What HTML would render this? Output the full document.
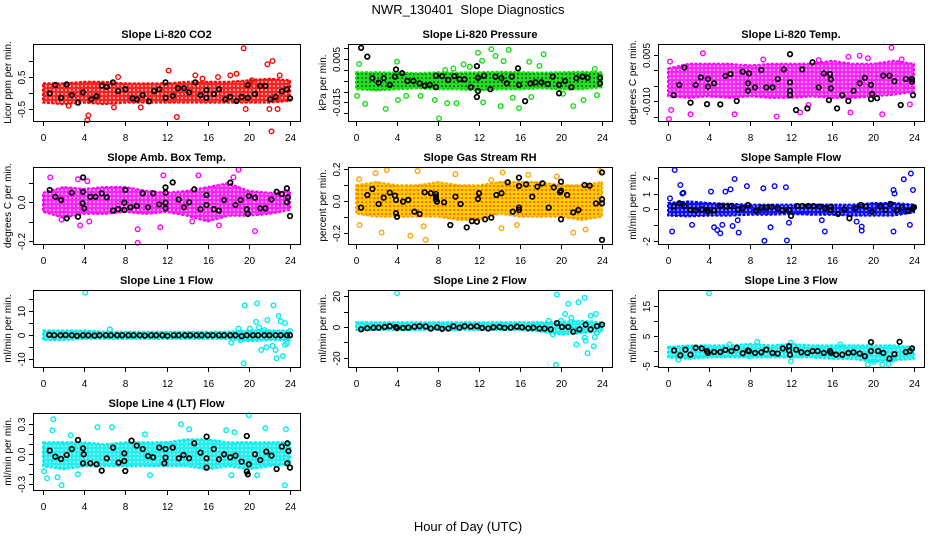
<!DOCTYPE html>
<html>
<head>
<meta charset="utf-8">
<style>
html,body{margin:0;padding:0;background:#fff;}
svg{display:block;font-family:"Liberation Sans",Arial,sans-serif;}
</style>
</head>
<body>
<svg id="chart" width="936" height="540" viewBox="0 0 936 540" xmlns="http://www.w3.org/2000/svg">
<defs>
<pattern id="pat-red" width="4" height="4" patternUnits="userSpaceOnUse"><rect width="4" height="4" fill="#ff2020"/><circle cx="2" cy="2" r="0.9" fill="#fff"/></pattern>
<pattern id="pat-green" width="4" height="4" patternUnits="userSpaceOnUse"><rect width="4" height="4" fill="#22dd22"/><circle cx="2" cy="2" r="0.8" fill="#000"/></pattern>
<pattern id="pat-magenta" width="4" height="4" patternUnits="userSpaceOnUse"><rect width="4" height="4" fill="#ff22ff"/><circle cx="2" cy="2" r="0.9" fill="#fff"/></pattern>
<pattern id="pat-orange" width="4" height="4" patternUnits="userSpaceOnUse"><rect width="4" height="4" fill="#ffcc00"/><circle cx="2" cy="2" r="1" fill="#ff5500"/></pattern>
<pattern id="pat-blue" width="4" height="4" patternUnits="userSpaceOnUse"><rect width="4" height="4" fill="#1010ff"/><circle cx="2" cy="2" r="0.8" fill="#fff"/></pattern>
<pattern id="pat-cyan" width="4" height="4" patternUnits="userSpaceOnUse"><rect width="4" height="4" fill="#22f0f0"/><circle cx="2" cy="2" r="0.8" fill="#fff"/></pattern>
</defs>
<text x="468" y="14" text-anchor="middle" font-size="13" xml:space="preserve">NWR_130401  Slope Diagnostics</text>
<text x="468" y="531" text-anchor="middle" font-size="13">Hour of Day (UTC)</text>
</svg>
<script>
// ---------- data ----------
const bandHours = [0,2,4,6,8,10,12,14,16,18,20,22,24];
const xTicks = [0,4,8,12,16,20,24];

// CO2
const co2BandHi = [0.3,0.3,0.35,0.35,0.3,0.3,0.3,0.35,0.35,0.35,0.4,0.45,0.4];
const co2BandLo = [-0.3,-0.35,-0.3,-0.35,-0.3,-0.3,-0.3,-0.3,-0.3,-0.3,-0.3,-0.3,-0.25];
const co2Out = [[4.3,-0.85],[4.4,-0.7],[7.3,0.5],[12.2,0.7],[13,-0.75],[14.8,0.55],[17,0.5],[18.2,0.55],[18.8,0.6],[19.5,1.4],[19.7,-0.5],[20.3,0.4],[21.8,0.9],[22.3,1.0],[22.2,-1.2],[22,-0.5],[23,0.55],[22.8,-0.5],[2.5,-0.4],[6.9,-0.45],[9.5,-0.45],[15.5,0.45]];
const co2Black = [[0.65,-0.01],[1.2,0.25],[1.75,-0.15],[2.3,0.27],[2.8,-0.07],[3.4,-0.3],[3.9,0.02],[4.7,-0.2],[5.2,-0.1],[5.7,0.23],[6.2,0.19],[6.8,0.33],[7.3,0.06],[8,0.12],[8.7,-0.17],[9.1,-0.2],[9.7,-0.07],[10.3,-0.26],[10.8,0.06],[11.3,0.12],[11.9,0.33],[11.9,-0.15],[12.6,-0.09],[13.1,0.15],[13.7,0.15],[14.2,0.02],[14.8,0.33],[15.3,-0.07],[15.9,0.09],[15.9,-0.15],[16.6,-0.03],[17.1,0.12],[17.7,-0.2],[18.2,-0.12],[18.8,-0.25],[19.3,-0.12],[19.9,0.25],[19.9,-0.15],[20.6,-0.03],[21.1,0.22],[21.6,0.22],[22.1,-0.2],[22.6,-0.12],[23.2,0.05],[23.7,0.12],[24,-0.17]];

// Pressure
const presBandHi = [-0.001,-0.001,-0.0012,-0.0015,-0.001,-0.0012,-0.001,-0.0008,-0.001,-0.0012,-0.001,-0.0008,-0.001];
const presBandLo = [-0.009,-0.0095,-0.009,-0.0085,-0.009,-0.009,-0.0095,-0.009,-0.009,-0.0085,-0.009,-0.009,-0.008];
const presOut = [[0.3,0.0028],[0.1,-0.012],[0.9,-0.0157],[2.9,-0.018],[4.0,0.0038],[4.1,-0.0139],[4.9,-0.012],[6.3,-0.012],[7.7,-0.0139],[8.1,-0.0224],[8.9,-0.0154],[9.8,-0.0154],[10.5,0.0026],[11.1,0.0015],[11.9,0.008],[12.3,0.0043],[12.4,-0.015],[13.2,0.0097],[13.6,0.0065],[14.1,-0.0167],[14.4,0.0041],[14.9,0.0093],[15.3,-0.0128],[15.9,-0.0177],[16.9,0.0038],[17.1,-0.0125],[17.9,0.0019],[18.3,0.0073],[20.2,-0.011],[21.2,-0.0167],[22.2,-0.0139],[23.3,0.0005],[23.5,-0.0116],[8.7,0],[9.5,0.0007]];
const presBlack = [[0.5,0.0103],[1.1,0.0062],[1.6,-0.0038],[2.2,-0.0059],[2.7,-0.0038],[3.3,-0.0069],[3.8,-0.0031],[3.9,0.0003],[4.5,-0.0015],[5.0,-0.0051],[5.6,-0.0051],[6.2,-0.0062],[6.7,-0.0073],[7.2,-0.0069],[7.8,-0.0026],[7.8,-0.0079],[8.4,-0.0028],[9.0,-0.0046],[9.6,-0.0028],[10.1,-0.0042],[10.6,-0.0043],[11.2,-0.0079],[11.8,0.0018],[11.8,-0.0125],[11.9,-0.0097],[11.9,-0.0036],[12.5,-0.0026],[13.1,-0.0089],[13.6,-0.0031],[14.2,-0.0038],[14.7,-0.0062],[15.2,-0.0031],[15.8,0.0008],[15.9,-0.0069],[16.5,-0.0144],[17.0,-0.0062],[17.5,-0.0057],[18.1,-0.0057],[18.7,-0.0065],[19.2,-0.0031],[19.8,-0.0069],[19.8,-0.0108],[20.4,-0.0051],[21.0,-0.0079],[21.5,-0.0038],[22.1,-0.0031],[22.6,-0.0036],[23.8,-0.0036],[23.8,-0.0062]];

// Li-820 Temp
const tempBandHi = [0.0005,0.002,0.002,0.002,0.0015,0.002,0.002,0.002,0.003,0.002,0.002,0.003,0.002];
const tempBandLo = [-0.0085,-0.009,-0.0085,-0.009,-0.0085,-0.009,-0.009,-0.0085,-0.009,-0.009,-0.0085,-0.008,-0.007];
const tempOut = [[0.2,0.0027],[0.1,-0.0158],[0.3,-0.0129],[2.2,-0.0143],[3.4,0.0054],[6.5,-0.0143],[9.3,0.0034],[10.6,-0.015],[12.9,-0.0137],[14.7,0.0032],[17.6,0.0043],[17.8,-0.0137],[18.7,0.0046],[19.5,0.0038],[20.9,-0.0143],[21.8,0.0072],[22.8,0.0034],[23.6,-0.0111],[13.7,-0.0113]];
const tempBlack = [[0.55,-0.0081],[1.1,-0.0048],[1.6,0.0008],[2.2,-0.0105],[2.7,-0.0048],[3.2,-0.0024],[3.9,-0.0029],[3.9,-0.0054],[3.8,-0.011],[4.5,-0.0043],[5.1,-0.0111],[5.6,-0.0019],[6.1,-0.0013],[6.7,-0.01],[7.3,-0.0005],[7.9,-0.0011],[7.8,-0.0043],[7.8,-0.0067],[8.5,-0.0056],[9.1,0.0],[9.6,-0.0056],[10.2,-0.0056],[10.7,-0.0029],[11.3,0.0002],[11.9,-0.004],[11.9,-0.0067],[11.9,0.0051],[11.9,-0.0081],[12.5,-0.0129],[13.1,0.0002],[13.6,-0.0124],[14.1,0.0025],[14.7,-0.0056],[15.2,-0.0011],[15.8,-0.0013],[15.9,-0.003],[15.9,-0.0059],[15.7,-0.0097],[16.5,-0.0124],[17.0,-0.0081],[17.6,-0.01],[18.1,-0.0067],[18.7,-0.0043],[19.2,-0.0025],[19.8,-0.0048],[19.9,-0.0077],[19.8,-0.0094],[20.4,-0.0091],[21.0,-0.0018],[21.6,-0.0018],[22.1,-0.0036],[22.7,-0.0113],[23.2,-0.0029],[23.8,-0.0029],[23.8,-0.0037],[23.9,-0.0081]];

// Amb Box Temp
const ambBandHi = [0.05,0.08,0.07,0.08,0.08,0.06,0.05,0.06,0.08,0.1,0.06,0.05,0.06];
const ambBandLo = [-0.05,-0.08,-0.06,-0.06,-0.05,-0.06,-0.05,-0.07,-0.1,-0.07,-0.07,-0.06,-0.04];
const ambOut = [[0.7,0.13],[3.4,0.12],[3.6,-0.12],[9.2,-0.14],[9.2,-0.21],[11.4,-0.13],[11.7,0.14],[15.1,0.14],[17.1,-0.12],[19.0,0.17],[20.6,-0.15],[18.5,0.13],[4.3,0.11],[1.8,-0.09],[4.5,-0.1],[14.5,-0.1]];
const ambBlack = [[0.65,0.064],[1.2,0.029],[1.75,0.012],[2.3,-0.083],[2.8,0.05],[3.4,-0.075],[3.9,0.13],[3.9,0.055],[3.85,-0.005],[4.0,-0.031],[4.6,0.029],[5.1,0.029],[5.7,0.047],[6.2,0.026],[6.8,-0.043],[7.3,-0.035],[7.9,-0.002],[7.9,-0.04],[8.0,0.064],[8.5,-0.026],[9.1,-0.019],[9.7,0.047],[10.2,-0.026],[10.7,0.047],[11.3,-0.011],[11.9,0.078],[11.9,0.05],[11.9,-0.002],[11.9,-0.031],[12.6,0.104],[13.2,0.015],[13.7,-0.026],[14.2,0.0],[14.7,0.068],[15.3,-0.036],[15.9,-0.014],[15.9,0.038],[16.6,-0.036],[17.1,-0.043],[17.6,0.012],[18.2,0.102],[18.7,-0.014],[19.2,0.012],[19.8,-0.036],[19.9,-0.06],[20.0,0.033],[20.6,0.024],[21.1,-0.031],[21.6,-0.031],[22.2,0.015],[22.7,0.055],[23.2,0.043],[23.7,0.073],[23.8,0.026],[23.7,0.0],[24.0,-0.071]];

// Gas Stream RH
const rhBandHi = [0.1,0.12,0.1,0.1,0.12,0.1,0.1,0.12,0.12,0.12,0.1,0.1,0.12];
const rhBandLo = [-0.08,-0.1,-0.1,-0.1,-0.1,-0.12,-0.12,-0.08,-0.1,-0.1,-0.1,-0.12,-0.1];
const rhOut = [[0.3,0.137],[0.35,-0.152],[2.5,-0.2],[3.0,0.196],[5.3,-0.22],[6.0,0.19],[6.8,-0.246],[6.6,-0.16],[9.7,0.17],[14.3,0.18],[14.2,-0.173],[15.7,-0.152],[16.8,0.165],[19.6,0.154],[21.2,-0.2],[22.4,-0.18],[23.8,0.19],[1.9,0.175],[13.2,0.133]];
const rhBlack = [[0.5,-0.042],[1.1,0.038],[1.6,0.076],[2.2,-0.019],[2.7,0.021],[3.3,0.053],[3.8,0.034],[3.9,0.007],[3.9,-0.078],[4.0,-0.1],[4.6,-0.004],[5.1,0.007],[5.7,-0.068],[6.2,-0.082],[6.7,0.055],[7.3,0.049],[7.8,0.044],[7.8,0.027],[7.8,0.011],[7.9,-0.004],[8.6,-0.008],[9.2,-0.152],[9.7,0.027],[10.2,-0.019],[10.8,-0.167],[11.3,-0.127],[11.8,-0.131],[12.0,0.049],[11.9,0.013],[12.6,-0.116],[13.2,-0.105],[13.7,0.038],[14.2,0.049],[14.8,0.118],[15.3,-0.068],[15.9,0.148],[15.9,0.095],[15.9,-0.042],[15.9,-0.057],[16.6,0.105],[17.2,0.027],[17.7,0.091],[18.2,0.112],[18.8,-0.042],[19.3,0.086],[19.9,0.055],[20.0,0.122],[20.0,-0.116],[20.0,0.065],[20.6,0.038],[21.2,-0.072],[21.7,-0.057],[22.3,0.101],[22.8,0.097],[23.4,-0.015],[24.0,0.181],[24.0,0.011],[24.0,-0.015],[24.0,-0.246]];

// Sample Flow
const sfBandHi = [0.4,0.5,0.4,0.35,0.3,0.3,0.3,0.3,0.3,0.3,0.4,0.4,0.3];
const sfBandLo = [-0.4,-0.45,-0.4,-0.4,-0.35,-0.35,-0.3,-0.35,-0.35,-0.4,-0.4,-0.4,-0.2];
const sfOut = [[0.65,2.49],[0.4,-1.41],[1.2,1.54],[1.4,1.0],[1.5,1.05],[0.2,0.69],[2.35,-0.99],[4.2,1.12],[4.5,-1.14],[4.8,-1.31],[5.1,-1.52],[5.3,-0.99],[5.6,1.12],[6.1,1.26],[6.3,-1.06],[6.5,1.92],[6.9,-1.48],[7.7,1.47],[9.4,-2.0],[9.3,1.33],[10.0,-1.14],[10.4,1.47],[11.6,-1.98],[11.5,1.4],[11.8,-0.85],[15.3,-1.41],[18.4,-0.78],[18.9,-1.1],[18.9,-1.35],[22.0,-1.41],[22.0,1.22],[22.1,1.0],[23.0,1.9],[23.6,-0.99],[23.7,2.27],[23.9,1.22],[6.8,-0.7],[15.0,-0.7]];
const sfBlack = [[0.55,0.17],[1.1,0.38],[1.6,0.21],[2.2,-0.04],[2.7,-0.08],[3.3,0.0],[3.8,-0.04],[3.9,-0.15],[4.5,-0.08],[5.1,0.21],[5.7,0.17],[6.2,0.21],[6.8,0.0],[7.3,0.06],[7.8,0.27],[8.6,-0.1],[9.1,0.11],[9.6,0.11],[10.1,0.13],[10.7,0.06],[11.2,-0.08],[11.8,-0.04],[12.0,-0.42],[12.6,0.21],[13.1,0.21],[13.7,0.21],[14.2,0.21],[14.8,0.17],[15.3,0.06],[15.9,0.17],[15.9,-0.04],[16.6,-0.29],[17.2,0.0],[17.7,-0.57],[18.3,0.06],[18.8,0.27],[19.3,0.17],[19.9,-0.15],[20.7,0.17],[21.2,-0.04],[21.7,0.34],[22.3,-0.08],[22.8,0.11],[23.4,-0.1],[23.9,0.06],[24,0.13]];

// Line 1 Flow
const l1BandHi = [2,2,2,1.5,1.5,1.5,1.5,1.5,1.5,1.5,2,2,2];
const l1BandLo = [-2,-2,-1.5,-1.5,-1.5,-1.5,-1.5,-1.5,-1.5,-1.5,-2.5,-2,-2];
const l1Out = [[4.1,17.8],[6.5,2.5],[18.3,-3.1],[19.0,2.8],[19.2,-2.1],[19.6,12.5],[19.5,-11.7],[20.1,2.8],[20.7,5.6],[20.8,13.3],[21.0,3.3],[21.2,-6.1],[21.5,2.2],[21.7,-5.0],[21.8,6.4],[22.3,-4.4],[22.4,12.5],[22.6,-6.1],[22.7,-9.6],[22.9,8.1],[23.1,5.8],[23.3,-8.6],[23.5,-4.0],[23.5,5.1],[23.7,-3.3],[24,1.8],[22.0,1.1],[20.1,-0.7]];
const l1Black = [[0.6,0.2],[1.1,0],[1.7,0],[2.2,0.1],[2.8,0],[3.3,-0.2],[3.9,0],[4.4,0],[5.0,-0.1],[5.5,0],[6.1,0],[6.6,0],[7.2,0],[7.7,0],[8.3,0],[8.8,0],[9.4,0],[9.9,-0.1],[10.5,0],[11.0,0],[11.6,0],[12.1,-0.2],[12.7,0],[13.2,0],[13.8,0],[14.3,0],[14.9,0],[15.4,0],[16.0,0],[16.5,0],[17.1,0],[17.6,0],[18.2,0],[18.7,0],[19.3,-0.3],[19.8,0],[20.4,0],[20.9,0],[21.5,0],[22.0,0],[22.6,0],[23.1,0],[23.7,0],[24.0,0]];

// Line 2 Flow
const l2BandHi = [3,3,3,3,3,3,3,3,3,3,3.5,4,3];
const l2BandLo = [-2,-2,-2,-2,-2,-2,-2,-2,-2,-3,-5,-4,-3];
const l2Out = [[4.0,22],[19.6,21],[19.5,-24.6],[20.4,8.4],[20.7,15],[21.0,6],[21.5,-11.4],[21.7,16],[22.3,19],[22.3,-7],[22.4,-9],[22.6,-17],[22.9,7.3],[23.2,-12.5],[23.4,8.4],[23.3,-6.6],[23.5,-3.7],[19.2,-4.8],[20.0,4],[21.2,-1.5],[18.8,4]];
const l2Black = [[0.5,-1.5],[1.1,-0.8],[1.7,-0.5],[2.2,-0.5],[2.8,0],[3.3,0.5],[3.9,0],[4.0,-0.8],[4.6,-0.6],[5.1,-0.4],[5.7,0.2],[6.2,0.5],[6.8,0.3],[7.3,-1],[7.9,-0.3],[8.4,-1.2],[9.0,-1.0],[9.5,0.4],[10.1,-0.5],[10.6,0.5],[11.2,0.2],[11.8,0.5],[12.3,-0.6],[12.9,-1.0],[13.4,-0.2],[14.0,0],[14.5,-0.6],[15.1,-0.4],[15.7,0.2],[16.2,-0.3],[16.8,-0.8],[17.3,-0.5],[17.9,-1],[18.4,-1.0],[19.0,-1.5],[19.6,2.5],[20.1,0],[20.7,0],[21.2,-3],[21.8,-1.5],[22.4,1.5],[22.9,-1.5],[23.5,0.5],[24.0,1.5]];

// Line 3 Flow
const l3BandHi = [1.5,2,2,2,2.5,2,2.5,2,2,2,2,2,1.5];
const l3BandLo = [-2,-2.5,-2,-2,-2,-2,-2,-2,-2.5,-2.5,-3.5,-3,-2.5];
const l3Out = [[4.0,19.4],[1.0,-2.75],[12.0,-3.3],[7.9,-1.6],[19.5,-4.4],[20.1,-3.5],[20.9,-4.4],[21.5,-4.2],[21.9,-2.75],[12.0,2.9],[8.7,3.2],[16.8,2.3],[6.0,2.3]];
const l3Black = [[0.6,0.3],[1.2,-1.3],[1.7,0.6],[2.2,-1.1],[2.7,1.2],[3.3,1.0],[3.8,0.1],[3.9,-0.5],[4.5,-0.2],[5.1,-0.2],[5.6,0.5],[6.2,0.1],[6.7,1.2],[7.3,-0.6],[7.8,0.3],[7.9,0.1],[8.5,-0.5],[9.1,-0.3],[9.6,0.6],[10.2,-0.5],[10.7,-0.7],[11.2,1.0],[11.8,1.7],[11.8,0.3],[11.9,-1.1],[12.5,0.6],[13.0,-0.3],[13.6,-0.5],[14.1,0.1],[14.6,0.1],[15.2,-0.5],[15.8,0.1],[15.9,-0.5],[16.4,-1.1],[17.0,-1.1],[17.6,-0.5],[18.1,-0.3],[18.7,-0.7],[19.2,-1.6],[19.8,3.1],[19.8,0.1],[20.5,0.1],[21.0,-0.5],[21.6,-2.4],[22.1,-0.9],[22.6,3.2],[23.2,-0.2],[23.6,0.1],[23.8,1.0]];

// Line 4 (LT) Flow
const l4BandHi = [0.12,0.12,0.12,0.1,0.12,0.12,0.12,0.15,0.15,0.12,0.12,0.12,0.12];
const l4BandLo = [-0.12,-0.15,-0.12,-0.12,-0.12,-0.12,-0.12,-0.12,-0.15,-0.12,-0.15,-0.12,-0.1];
const l4Out = [[0.1,-0.17],[0.4,-0.24],[1.0,0.35],[0.9,0.24],[1.4,-0.23],[1.8,-0.31],[2.7,0.19],[3.4,-0.2],[5.3,0.27],[6.7,0.27],[9.9,0.2],[10.4,-0.21],[13.4,0.3],[14.2,0.25],[17.8,0.24],[18.3,-0.21],[20.0,0.39],[20.8,-0.21],[21.6,0.26],[23.5,-0.31],[23.6,0.25],[18.6,0.22]];
const l4Black = [[0.65,0.037],[1.2,-0.023],[1.75,-0.047],[2.3,-0.007],[2.8,0.053],[3.4,0.143],[3.9,0.06],[3.95,0],[3.9,-0.09],[4.6,-0.09],[5.2,-0.1],[5.7,-0.163],[6.2,-0.04],[6.8,0.067],[7.35,-0.083],[7.9,0.01],[7.9,-0.067],[8.0,-0.167],[8.6,0.137],[9.1,0.087],[9.7,0.053],[10.2,-0.017],[10.7,-0.03],[11.3,0.067],[11.9,0.053],[11.9,-0.033],[11.8,-0.09],[12.6,0.067],[13.2,-0.04],[13.65,-0.007],[14.2,-0.04],[14.7,0.11],[15.3,0.017],[15.9,0.177],[15.9,-0.04],[15.9,-0.133],[16.6,0.053],[17.1,-0.05],[17.6,0],[18.2,-0.03],[18.7,-0.013],[19.3,-0.073],[19.8,0.183],[19.8,-0.173],[19.9,-0.2],[20.0,-0.1],[20.6,0],[21.1,-0.057],[21.7,0.027],[22.2,-0.013],[22.7,-0.147],[23.2,0.077],[23.75,0.11],[23.85,0.033],[23.75,-0.09],[24.0,-0.133]];

// tick values & labels
const co2Ticks = [1,0.5,0,-0.5];            const co2TickLabels = ["","0.5","","-0.5"];
const presTicks = [0.01,0.005,0,-0.005,-0.01,-0.015,-0.02]; const presTickLabels = ["","0.005","","","","-0.015",""];
const tempTicks = [0.005,0,-0.005,-0.01,-0.015]; const tempTickLabels = ["0.005","","","-0.010",""];
const ambTicks = [0.1,0,-0.1,-0.2];          const ambTickLabels = ["","0.0","","-0.2"];
const rhTicks = [0.2,0.1,0,-0.1,-0.2];       const rhTickLabels = ["0.2","","0.0","","-0.2"];
const sfTicks = [2,1,0,-1,-2];               const sfTickLabels = ["2","1","0","","-2"];
const l1Ticks = [15,10,5,0,-5,-10];          const l1TickLabels = ["","10","","0","","-10"];
const l2Ticks = [20,10,0,-10,-20];           const l2TickLabels = ["20","","0","","-20"];
const l3Ticks = [15,10,5,0,-5];              const l3TickLabels = ["15","","5","","-5"];
const l4Ticks = [0.3,0.2,0.1,0,-0.1,-0.2,-0.3]; const l4TickLabels = ["0.3","","","0.0","","","-0.3"];

// ---------- layout ----------
const cols = [{l:33,r:300,x0:43,x24:290},{l:348,r:612,x0:356,x24:602},{l:658,r:924,x0:668,x24:914}];
const rows = [{t:44,b:121},{t:167,b:244},{t:290,b:367},{t:413,b:490}];
const NS = "http://www.w3.org/2000/svg";
const svg = document.getElementById('chart');

function mk(tag, attrs, parent){
  const e = document.createElementNS(NS, tag);
  for (const k in attrs) e.setAttribute(k, attrs[k]);
  (parent||svg).appendChild(e);
  return e;
}

function panel(key, title, ylab, c, r, ymin, ymax, ticks, tickLabels, hi, lo, outl, black, color, pat){
  const C = cols[c], R = rows[r];
  const g = mk('g', {});
  
  
  const xs = h => C.x0 + (C.x24 - C.x0) * h / 24;
  const ys = v => R.b - (R.b - R.t) * (v - ymin) / (ymax - ymin);

  let d = '';
  bandHours.forEach((h,i)=>{ d += (i? 'L':'M') + xs(h).toFixed(1) + ',' + ys(hi[i]).toFixed(1); });
  for (let i = bandHours.length-1; i>=0; i--) d += 'L' + xs(bandHours[i]).toFixed(1) + ',' + ys(lo[i]).toFixed(1);
  d += 'Z';
  const band = mk('path', {d:d, fill:'url(#'+pat+')', stroke:color, 'stroke-width':2, 'stroke-linejoin':'round', 'stroke-dasharray':'3 1.5'}, g);
  
  

  outl.forEach(p=>{
    const m = mk('circle', {cx:xs(p[0]).toFixed(1), cy:ys(p[1]).toFixed(1), r:2.3, fill:'none', stroke:color, 'stroke-width':1.4}, g);
    
    
  });
  black.forEach(p=>{
    const m = mk('circle', {cx:xs(p[0]).toFixed(1), cy:ys(p[1]).toFixed(1), r:2.3, fill:'none', stroke:'#000', 'stroke-width':1.7}, g);
    
    
  });

  const box = mk('rect', {x:C.l+0.5, y:R.t+0.5, width:C.r-C.l, height:R.b-R.t, fill:'none', stroke:'#000', 'stroke-width':1}, g);
  
  

  const xa = mk('g', {}, g);
  
  
  xTicks.forEach(t=>{
    const x = Math.round(xs(t)) + 0.5;
    mk('line', {x1:x, x2:x, y1:R.b+1, y2:R.b+5, stroke:'#000', 'stroke-width':1}, xa);
    const tl = mk('text', {x:x, y:R.b+20, 'text-anchor':'middle', 'font-size':10}, xa);
    
    
    tl.textContent = String(t);
  });

  const ya = mk('g', {}, g);
  
  
  ticks.forEach((t,i)=>{
    const y = Math.round(ys(t)) + 0.5;
    mk('line', {x1:C.l-4, x2:C.l, y1:y, y2:y, stroke:'#000', 'stroke-width':1}, ya);
    if (tickLabels[i]) {
      const lx = C.l - 8;
      const tl = mk('text', {x:lx, y:y, 'text-anchor':'middle', 'font-size':10, transform:'rotate(-90 '+lx+' '+y+')'}, ya);
      
      
      tl.textContent = tickLabels[i];
    }
  });
  const yx = C.l - 22, yy = (R.t + R.b)/2;
  const yt = mk('text', {x:yx, y:yy, 'text-anchor':'middle', 'font-size':10, transform:'rotate(-90 '+yx+' '+yy+')'}, g);
  
  
  yt.textContent = ylab;

  const tt = mk('text', {x:(C.l+C.r)/2, y:R.t-6, 'text-anchor':'middle', 'font-size':11, 'font-weight':'bold'}, g);
  
  
  tt.textContent = title;
}

panel('co2', 'Slope Li-820 CO2', 'Licor ppm per min.', 0,0, -0.875, 1.531, co2Ticks, co2TickLabels, co2BandHi, co2BandLo, co2Out, co2Black, '#ff0000', 'pat-red');
panel('pressure', 'Slope Li-820 Pressure', 'kPa per min.', 1,0, -0.02361, 0.01204, presTicks, presTickLabels, presBandHi, presBandLo, presOut, presBlack, '#11dd11', 'pat-green');
panel('li820-temp', 'Slope Li-820 Temp.', 'degrees C per min.', 2,0, -0.01645, 0.00839, tempTicks, tempTickLabels, tempBandHi, tempBandLo, tempOut, tempBlack, '#ff00ff', 'pat-magenta');
panel('amb-box-temp', 'Slope Amb. Box Temp.', 'degrees C per min.', 0,1, -0.217, 0.184, ambTicks, ambTickLabels, ambBandHi, ambBandLo, ambOut, ambBlack, '#ff00ff', 'pat-magenta');
panel('gas-stream-rh', 'Slope Gas Stream RH', 'percent per min.', 1,1, -0.272, 0.215, rhTicks, rhTickLabels, rhBandHi, rhBandLo, rhOut, rhBlack, '#ffa500', 'pat-orange');
panel('sample-flow', 'Slope Sample Flow', 'ml/min per min.', 2,1, -2.2, 2.68, sfTicks, sfTickLabels, sfBandHi, sfBandLo, sfOut, sfBlack, '#0000ff', 'pat-blue');
panel('line1-flow', 'Slope Line 1 Flow', 'ml/min per min.', 0,2, -13.2, 18.9, l1Ticks, l1TickLabels, l1BandHi, l1BandLo, l1Out, l1Black, '#00eeee', 'pat-cyan');
panel('line2-flow', 'Slope Line 2 Flow', 'ml/min per min.', 1,2, -26.0, 24.0, l2Ticks, l2TickLabels, l2BandHi, l2BandLo, l2Out, l2Black, '#00eeee', 'pat-cyan');
panel('line3-flow', 'Slope Line 3 Flow', 'ml/min per min.', 2,2, -5.2, 20.5, l3Ticks, l3TickLabels, l3BandHi, l3BandLo, l3Out, l3Black, '#00eeee', 'pat-cyan');
panel('line4-flow', 'Slope Line 4 (LT) Flow', 'ml/min per min.', 0,3, -0.357, 0.413, l4Ticks, l4TickLabels, l4BandHi, l4BandLo, l4Out, l4Black, '#00eeee', 'pat-cyan');
</script>
</body>
</html>
